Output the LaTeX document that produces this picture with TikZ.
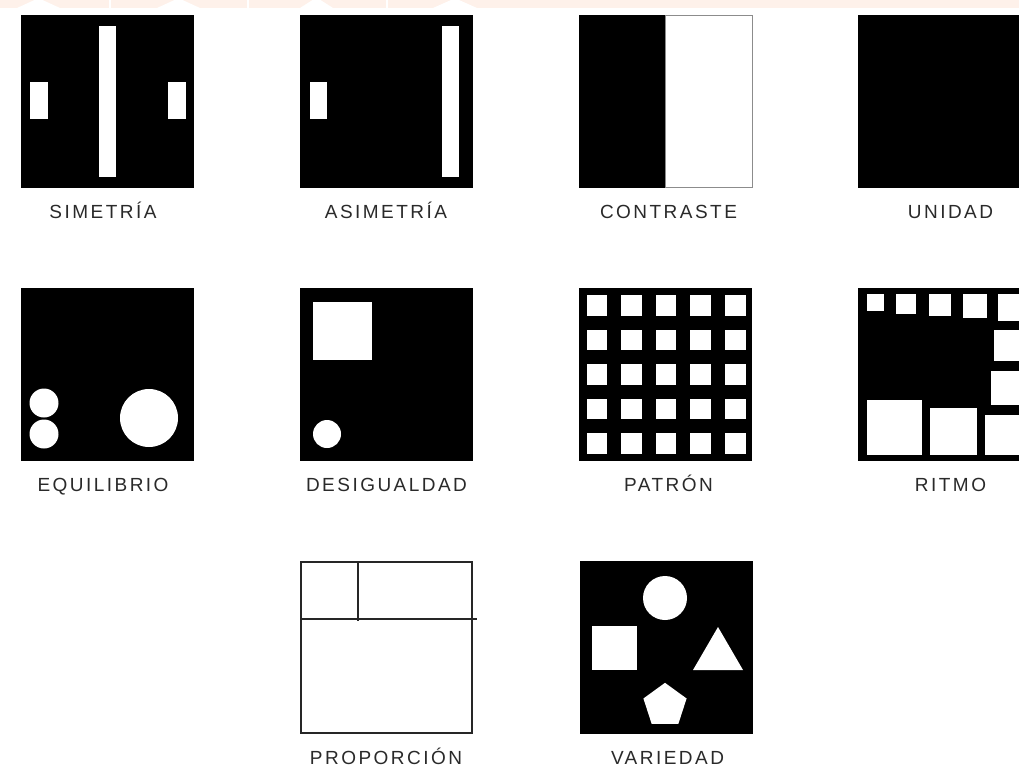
\documentclass[tikz,border=0pt]{standalone}
\usepackage{fontspec}
\setmainfont{Liberation Sans}
\newfontfamily\labfont[LetterSpace=13]{Liberation Sans}
\usetikzlibrary{shapes.geometric}
\definecolor{peach}{HTML}{FEF1EA}
\definecolor{labgray}{HTML}{2A2A2A}
\tikzset{
  panel/.style={draw=none, fill=black, minimum size=173pt, inner sep=0pt, outer sep=0pt},
  lbl/.style={font=\labfont\fontsize{19}{21}\selectfont, text=labgray, inner sep=0pt, anchor=base},
}
\begin{document}
\begin{tikzpicture}[x=1pt,y=-1pt]
\useasboundingbox (0,0) rectangle (1019,772);
\clip (0,0) rectangle (1019,772);
\fill[white] (0,0) rectangle (1019,772);
% faint top band
\fill[peach] (0,0) rectangle (1019,8);
\foreach \a/\b in {17/60,157/200,300/333,433/477}{
  \fill[white] (\a,8) -- ({(\a+\b)/2-4},0) -- ({(\a+\b)/2+4},0) -- (\b,8) -- cycle;
}
\foreach \a in {110,248,387}{\fill[white] (\a-0.7,0) rectangle (\a+0.7,8);}

% ---------- Row 1 ----------
% SIMETRIA
\node[panel] (sim) at (107.5,101.5) {};
\fill[white] (99,26) rectangle (116,177);
\fill[white] (30,82) rectangle (48,119);
\fill[white] (168,82) rectangle (186,119);
\node[lbl] (simL) at (103,218) {SIMETRÍA};

% ASIMETRIA
\node[panel] (asim) at (386,101.5) {};
\fill[white] (442,26) rectangle (459,177);
\fill[white] (310,82) rectangle (327,119);
\node[lbl] (asimL) at (386,218) {ASIMETRÍA};

% CONTRASTE
\node[panel, minimum width=174pt] (con) at (666,101.5) {};
\filldraw[fill=white, draw=black!45, line width=0.9pt] (665,15.5) rectangle (752.5,187.5);
\node[lbl] (conL) at (668.5,218) {CONTRASTE};

% UNIDAD
\node[panel] (uni) at (944.5,101.5) {};
\node[lbl] (uniL) at (950.5,218) {UNIDAD};

% ---------- Row 2 ----------
% EQUILIBRIO
\node[panel] (equ) at (107.5,374.5) {};
\fill[white] (44,403) circle (14.5);
\fill[white] (44,434) circle (14.5);
\fill[white] (149,418) circle (29);
\node[lbl] (equL) at (103,491) {EQUILIBRIO};

% DESIGUALDAD
\node[panel] (des) at (386,374.5) {};
\fill[white] (313,302) rectangle (372,360);
\fill[white] (327,434) circle (14);
\node[lbl] (desL) at (386.5,491) {DESIGUALDAD};

% PATRON
\node[panel] (pat) at (665.5,374.5) {};
\foreach \i in {0,...,4}{
  \foreach \j in {0,...,4}{
    \fill[white] ({596.8+34.6*\i-10.3},{305.3+34.6*\j-10.3}) rectangle ++(20.6,20.6);
  }
}
\node[lbl] (patL) at (668.5,491) {PATRÓN};

% RITMO
\node[panel] (rit) at (944.5,374.5) {};
\foreach \xa/\ya/\xb/\yb in {867/294/884/311, 896/294/916/314, 929/294/951/316, 963/294/987/318, 998/294/1025/321,
  994/330/1025/361, 991/371/1025/405, 985/415/1025/455, 930/408/977/455, 867/400/922/455}{
  \fill[white] (\xa,\ya) rectangle (\xb,\yb);
}
\node[lbl] (ritL) at (950.5,491) {RITMO};

% ---------- Row 3 ----------
% PROPORCION
\node[draw=black!85, line width=1.6pt, fill=white, minimum size=171pt, inner sep=0pt] (pro) at (386.5,647.5) {};
\draw[black!85, line width=1.5pt] (pro.west |- 0,619) -- ([xshift=4pt]pro.east |- 0,619);
\draw[black!85, line width=1.5pt] (358,562) -- (358,621);
\node[lbl] (proL) at (386,764) {PROPORCIÓN};

% VARIEDAD
\node[panel] (var) at (666,647.5) {};
\fill[white] (665,598) circle (22);
\fill[white] (592,626) rectangle (637,670);
\fill[white] (718,627) -- (743,670) -- (693,670) -- cycle;
\node[regular polygon, regular polygon sides=5, minimum size=45.4pt, inner sep=0pt, fill=white] (pent) at (665,705.5) {};
\node[lbl] (varL) at (667.5,764) {VARIEDAD};
\end{tikzpicture}
\end{document}
